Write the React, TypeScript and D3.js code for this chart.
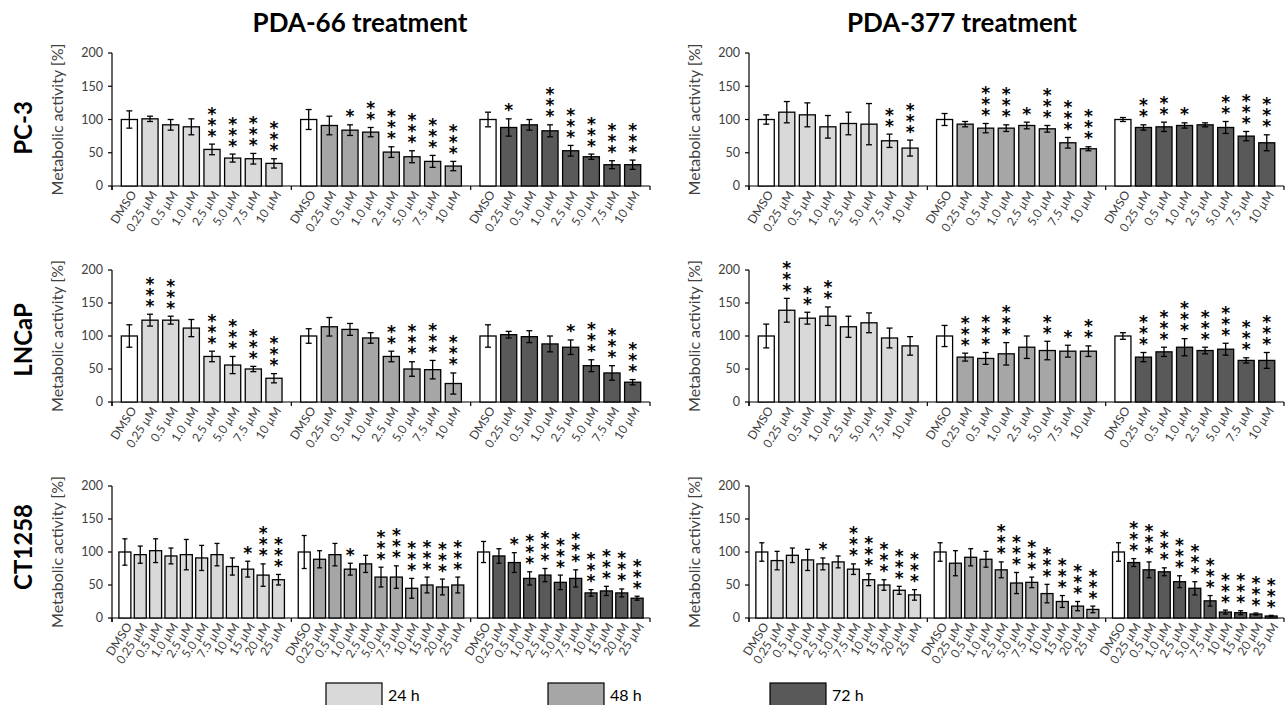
import React from "react";
import * as d3 from "d3";

const treatments = ["PDA-66 treatment", "PDA-377 treatment"];
const cellLines = ["PC-3", "LNCaP", "CT1258"];
const timepoints = ["24 h", "48 h", "72 h"];
const doses8 = ["DMSO", "0.25 µM", "0.5 µM", "1.0 µM", "2.5 µM", "5.0 µM", "7.5 µM", "10 µM"];
const doses11 = [...doses8, "15 µM", "20 µM", "25 µM"];
const yTicks = [0, 50, 100, 150, 200];
const yLabel = "Metabolic activity [%]";

// PC-3
const pc3Pda66Mean = [[100, 101, 92, 89, 55, 42, 41, 34], [100, 91, 84, 81, 51, 44, 37, 30], [100, 88, 92, 83, 53, 44, 32, 32]];
const pc3Pda66Err = [[13, 4, 8, 12, 8, 6, 8, 7], [15, 14, 8, 7, 8, 9, 9, 7], [11, 13, 8, 9, 8, 4, 6, 7]];
const pc3Pda66Sig = [[0, 0, 0, 0, 3, 3, 3, 3], [0, 0, 1, 2, 3, 3, 3, 3], [0, 1, 0, 3, 3, 3, 3, 3]];
const pc3Pda377Mean = [[100, 111, 107, 89, 94, 93, 68, 57], [100, 93, 87, 87, 91, 86, 65, 56], [100, 88, 89, 91, 92, 88, 75, 65]];
const pc3Pda377Err = [[7, 16, 18, 17, 17, 31, 10, 12], [9, 4, 7, 5, 5, 5, 8, 3], [3, 4, 7, 4, 3, 9, 7, 12]];
const pc3Pda377Sig = [[0, 0, 0, 0, 0, 0, 2, 3], [0, 0, 3, 3, 1, 3, 3, 3], [0, 2, 2, 1, 0, 2, 3, 3]];

// LNCaP
const lncapPda66Mean = [[100, 124, 124, 112, 69, 56, 50, 36], [100, 114, 110, 97, 69, 50, 49, 28], [100, 102, 99, 88, 83, 55, 44, 30]];
const lncapPda66Err = [[17, 9, 6, 13, 8, 13, 4, 7], [11, 14, 9, 8, 8, 11, 14, 16], [17, 5, 9, 12, 11, 9, 11, 4]];
const lncapPda66Sig = [[0, 3, 3, 0, 3, 3, 3, 3], [0, 0, 0, 0, 2, 3, 3, 3], [0, 0, 0, 0, 1, 3, 3, 3]];
const lncapPda377Mean = [[100, 139, 127, 130, 114, 120, 97, 85], [100, 68, 66, 73, 83, 78, 77, 77], [100, 68, 76, 83, 78, 80, 63, 63]];
const lncapPda377Err = [[18, 18, 9, 14, 16, 15, 15, 14], [16, 6, 9, 17, 17, 14, 9, 8], [5, 7, 7, 13, 5, 9, 4, 12]];
const lncapPda377Sig = [[0, 3, 2, 2, 0, 0, 0, 0], [0, 3, 3, 3, 0, 2, 1, 2], [0, 3, 3, 3, 3, 3, 3, 3]];

// CT1258
const ctPda66Mean = [[100, 96, 102, 94, 96, 91, 96, 78, 74, 65, 58], [100, 89, 96, 74, 82, 62, 62, 45, 50, 47, 50], [100, 94, 84, 60, 65, 54, 60, 38, 41, 38, 30]];
const ctPda66Err = [[20, 13, 18, 12, 23, 19, 17, 13, 12, 17, 8], [25, 13, 17, 9, 13, 15, 17, 15, 12, 12, 12], [16, 11, 15, 10, 10, 11, 13, 5, 7, 6, 3]];
const ctPda66Sig = [[0, 0, 0, 0, 0, 0, 0, 0, 1, 3, 3], [0, 0, 0, 1, 0, 3, 3, 3, 3, 3, 3], [0, 0, 1, 3, 3, 3, 3, 3, 3, 3, 3]];
const ctPda377Mean = [[100, 87, 95, 88, 82, 85, 74, 58, 50, 42, 35], [100, 83, 92, 89, 73, 53, 54, 37, 25, 18, 13], [100, 84, 73, 70, 55, 45, 26, 9, 8, 6, 3]];
const ctPda377Err = [[14, 14, 11, 16, 9, 9, 8, 9, 8, 6, 8], [14, 19, 13, 12, 12, 16, 8, 14, 9, 7, 5], [14, 6, 12, 6, 9, 10, 8, 3, 3, 1.5, 1]];
const ctPda377Sig = [[0, 0, 0, 0, 1, 0, 3, 3, 3, 3, 3], [0, 0, 0, 0, 3, 3, 3, 3, 3, 3, 3], [0, 3, 3, 3, 3, 3, 3, 3, 3, 3, 3]];

const FONT = "Lato, 'Open Sans', sans-serif";
const STAR_FONT = "'DejaVu Sans', 'Liberation Sans', sans-serif";
const groupFill = ["#d9d9d9", "#a6a6a6", "#595959"];
const textGray = "#404040";

type PanelProps = {
  x0: number; x1: number; yTop: number; yBase: number;
  mean: number[][]; err: number[][]; sig: number[][]; doses: string[];
};

function Panel({ x0, x1, yTop, yBase, mean, err, sig, doses }: PanelProps) {
  const y = d3.scaleLinear().domain([0, 200]).range([yBase, yTop]);
  const groupScale = d3.scaleBand<number>().domain([0, 1, 2]).range([x0, x1]).padding(0);
  const gw = groupScale.bandwidth();
  const bounds = [x0, x0 + gw, x0 + 2 * gw, x1];
  const capW = doses.length > 8 ? 5 : 6;
  return (
    <g>
      <line x1={x0} x2={x0} y1={y(200)} y2={yBase + 4} stroke="#000" strokeWidth={1.2} />
      {yTicks.map((t) => (
        <g key={t}>
          <line x1={x0 - 4} x2={x0} y1={y(t)} y2={y(t)} stroke="#000" strokeWidth={1.2} />
          <text x={x0 - 9} y={y(t)} dy="0.35em" textAnchor="end" fontSize={12.5} fill={textGray} fontFamily={FONT}>{t}</text>
        </g>
      ))}
      <line x1={x0} x2={x1} y1={yBase} y2={yBase} stroke="#000" strokeWidth={1.2} />
      {bounds.map((b, i) => (
        <line key={i} x1={b} x2={b} y1={yBase} y2={yBase + 4} stroke="#000" strokeWidth={1.2} />
      ))}
      {[0, 1, 2].map((g) => {
        const gx = groupScale(g)!;
        const band = d3.scaleBand<string>().domain(doses).range([gx, gx + gw]).paddingInner(0.22).paddingOuter(0.45);
        const bw = band.bandwidth();
        return (
          <g key={g}>
            {doses.map((d, i) => {
              const v = mean[g][i];
              const e = err[g][i];
              const bx = band(d)!;
              const cx = bx + bw / 2;
              const top = y(v + e);
              const n = sig[g][i];
              return (
                <g key={d}>
                  <rect x={bx} y={y(v)} width={bw} height={yBase - y(v)} fill={i === 0 ? "#ffffff" : groupFill[g]} stroke="#000" strokeWidth={1.3} />
                  <line x1={cx} x2={cx} y1={y(v + e)} y2={y(v - e)} stroke="#000" strokeWidth={1.3} />
                  <line x1={cx - capW / 2} x2={cx + capW / 2} y1={y(v + e)} y2={y(v + e)} stroke="#000" strokeWidth={1.3} />
                  <line x1={cx - capW / 2} x2={cx + capW / 2} y1={y(v - e)} y2={y(v - e)} stroke="#000" strokeWidth={1.3} />
                  {n > 0 && (
                    <text x={cx} y={top - 12 + 9.5} textAnchor="middle" fontSize={17} fontWeight="bold" fill="#000" fontFamily={STAR_FONT}>
                      {d3.range(n).map((k) => (
                        <tspan key={k} x={cx} dy={k === 0 ? 0 : -11}>*</tspan>
                      ))}
                    </text>
                  )}
                  <text transform={`translate(${cx + 4},${yBase + 6}) rotate(-57)`} dy="0.35em" textAnchor="end" fontSize={12} fill={textGray} fontFamily={FONT}>{d}</text>
                </g>
              );
            })}
          </g>
        );
      })}
      <text transform={`translate(${x0 - 55},${(yTop + yBase) / 2}) rotate(-90)`} dy="0.35em" textAnchor="middle" fontSize={16} fill={textGray} fontFamily={FONT}>{yLabel}</text>
    </g>
  );
}

const panelData = [
  [
    { mean: pc3Pda66Mean, err: pc3Pda66Err, sig: pc3Pda66Sig, doses: doses8 },
    { mean: pc3Pda377Mean, err: pc3Pda377Err, sig: pc3Pda377Sig, doses: doses8 },
  ],
  [
    { mean: lncapPda66Mean, err: lncapPda66Err, sig: lncapPda66Sig, doses: doses8 },
    { mean: lncapPda377Mean, err: lncapPda377Err, sig: lncapPda377Sig, doses: doses8 },
  ],
  [
    { mean: ctPda66Mean, err: ctPda66Err, sig: ctPda66Sig, doses: doses11 },
    { mean: ctPda377Mean, err: ctPda377Err, sig: ctPda377Sig, doses: doses11 },
  ],
];

const colX = [[112, 650], [749, 1284]];
const rowY = [[53, 186], [270, 402], [486, 618]];
const rowLabelY = [128, 340, 547];
const titleX = [360, 962];
const legendX = [326, 548, 770];

export default function App() {
  return (
    <svg width={1285} height={705} style={{ position: "absolute", left: 0, top: 0, display: "block" }}>
      <rect width={1285} height={705} fill="#ffffff" />
      {treatments.map((t, i) => (
        <text key={t} x={titleX[i]} y={32} textAnchor="middle" fontSize={26} fontWeight="bold" fill="#000" fontFamily={FONT}>{t}</text>
      ))}
      {cellLines.map((c, r) => (
        <text key={c} transform={`translate(24,${rowLabelY[r]}) rotate(-90)`} dy="0.35em" textAnchor="middle" fontSize={24} fontWeight="bold" fill="#000" fontFamily={FONT}>{c}</text>
      ))}
      {panelData.map((row, r) =>
        row.map((p, c) => (
          <Panel key={`${r}-${c}`} x0={colX[c][0]} x1={colX[c][1]} yTop={rowY[r][0]} yBase={rowY[r][1]} {...p} />
        ))
      )}
      {timepoints.map((t, i) => (
        <g key={t}>
          <rect x={legendX[i]} y={683} width={56} height={30} fill={groupFill[i]} stroke="#000" strokeWidth={1.2} />
          <text x={legendX[i] + 62} y={701} fontSize={16} fill="#000" fontFamily={FONT}>{t}</text>
        </g>
      ))}
    </svg>
  );
}
